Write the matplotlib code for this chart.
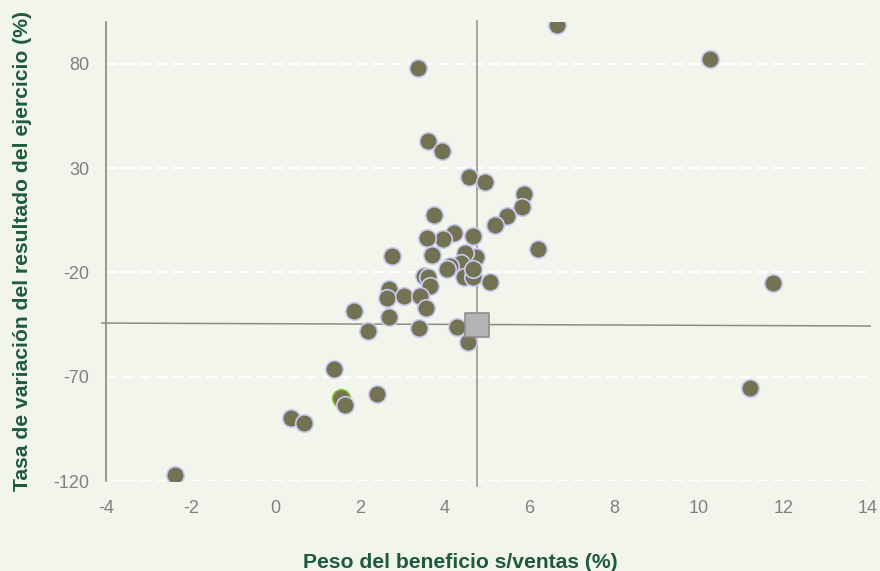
import matplotlib
matplotlib.use("Agg")
import matplotlib.pyplot as plt

# peso del beneficio s/ventas (%) y tasa de variacion del resultado (%)
peso = [6.66, 10.27, 3.38, 3.61, 3.94, 4.58, 4.96, 5.88, 5.83, 5.47,
        5.19, 3.74, 4.67, 4.21, 3.97, 3.58, 6.21, 2.75, 4.73, 4.47,
        3.70, 4.38, 4.13, 4.06, 3.50, 3.61, 4.46, 4.68, 4.66, 5.08,
        3.66, 2.68, 2.63, 3.05, 3.41, 3.56, 1.85, 2.68, 2.19, 3.40,
        4.30, 4.54, 1.38, 2.40, 1.64, 0.37, 0.67, -2.38, 11.76, 11.22]
tasa = [98.7, 82.4, 78.1, 43.1, 38.3, 25.8, 23.4, 17.7, 11.1, 7.1,
        2.8, 7.6, -2.8, -1.3, -4.1, -3.4, -8.7, -12.3, -12.5, -10.5,
        -11.8, -15.6, -16.8, -18.5, -21.6, -22.3, -22.1, -22.0, -18.3, -24.5,
        -26.7, -28.1, -32.4, -31.2, -31.2, -37.0, -38.4, -41.5, -48.3, -46.7,
        -46.2, -53.6, -66.4, -78.1, -83.6, -89.6, -92.0, -117.0, -25.0, -75.3]

# empresa destacada
destacada_x = [1.55]
destacada_y = [-80.0]

# media del sector
media_x = 4.77
media_y = -45.0

yticks = [-120, -70, -20, 30, 80]
xticks = [-4, -2, 0, 2, 4, 6, 8, 10, 12, 14]

bg = "#F2F5EB"
punto = "#737354"
borde = "#CACAF2"
verde = "#1E5A3E"

plt.rcParams["font.family"] = ["Liberation Sans", "DejaVu Sans"]
plt.rcParams["axes.unicode_minus"] = False

fig = plt.figure(figsize=(8.8, 5.71), dpi=100, facecolor=bg)
ax = fig.add_axes([0.1205, 0.1576, 0.8659, 0.8039], facecolor=bg)

ax.set_xlim(-4, 14)
ax.set_ylim(-120, 100)
ax.set_xticks(xticks)
ax.set_yticks(yticks)
ax.tick_params(length=0, labelsize=13, labelcolor="#808080")
ax.tick_params(axis="x", pad=14)
ax.tick_params(axis="y", pad=12)

for s in ["top", "right", "bottom"]:
    ax.spines[s].set_visible(False)
ax.spines["left"].set_color("#8A8A7A")
ax.spines["left"].set_linewidth(1.2)

for yt in yticks:
    ax.axhline(yt, color="white", lw=1.6, ls=(0, (5, 2.5)), zorder=1)

# lineas de la media
ax.plot([-4.1, 14.05], [media_y + 0.7, media_y - 0.7], color="#8C8C80",
        lw=1.1, zorder=2, clip_on=False)
ax.plot([media_x, media_x], [-122.5, 100.6], color="#A0A098",
        lw=1.3, zorder=2, clip_on=False)

ax.scatter(destacada_x, destacada_y, s=160, color=punto, edgecolors="#7DC21E",
           linewidths=1.2, zorder=3)
ax.scatter(peso, tasa, s=160, color=punto, edgecolors=borde,
           linewidths=1.2, zorder=4)
ax.scatter([media_x], [media_y], s=285, marker="s", color="#B4B4B4",
           edgecolors="#8E8E8E", linewidths=1.2, zorder=5)

ax.set_xlabel("Peso del beneficio s/ventas (%)", fontsize=15.2,
              fontweight="bold", color=verde)
ax.xaxis.set_label_coords(0.4646, -0.156)
ax.set_ylabel("Tasa de variación del resultado del ejercicio (%)",
              fontsize=15.2, fontweight="bold", color=verde)
ax.yaxis.set_label_coords(-0.097, 0.5)

fig.savefig("out.png", dpi=100, facecolor=bg)
